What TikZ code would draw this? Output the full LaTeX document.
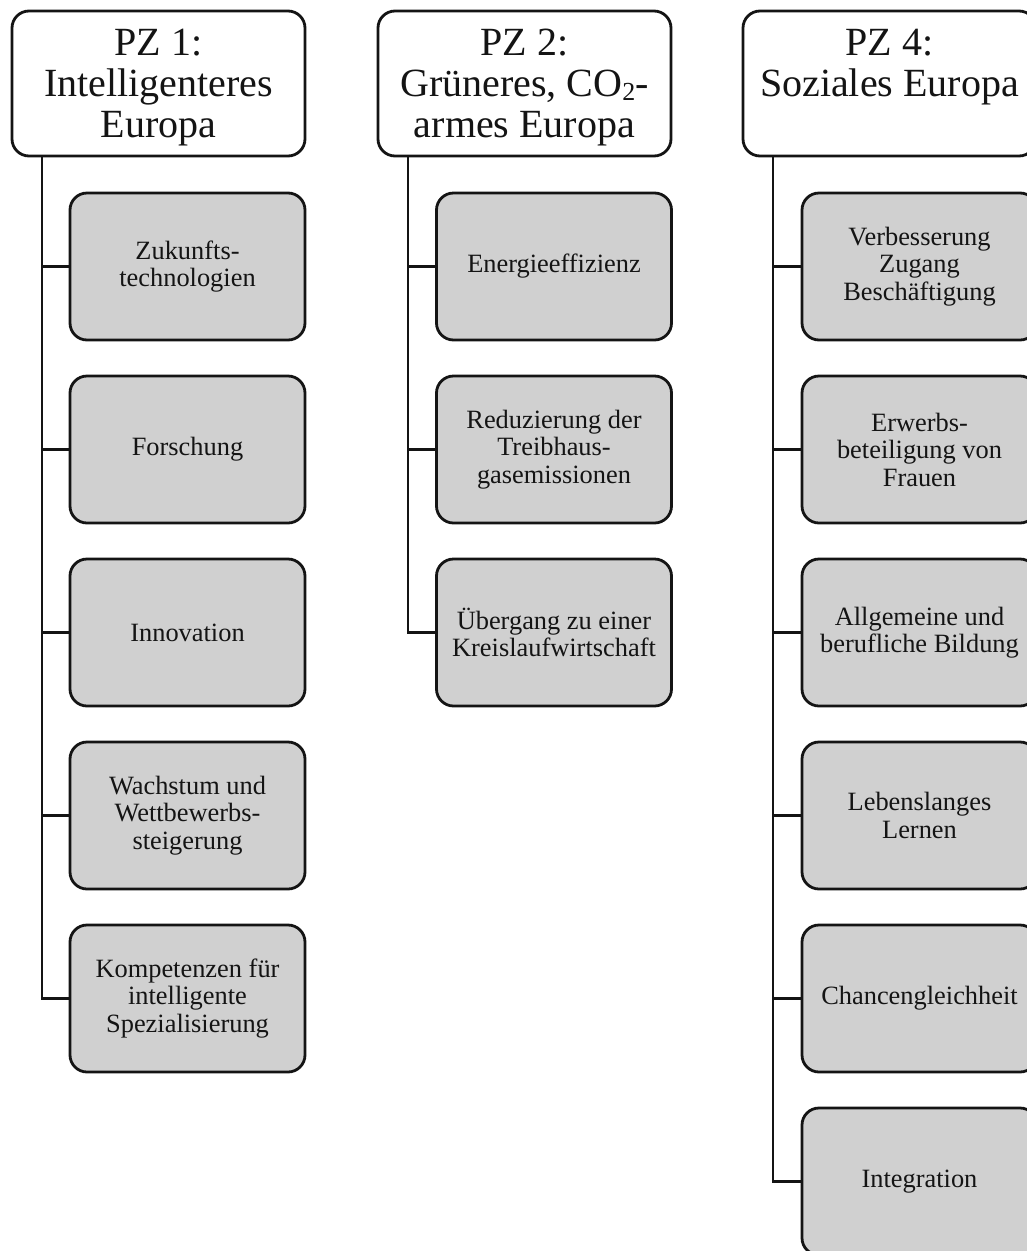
\documentclass[tikz,border=0pt]{standalone}
\usepackage{fontspec}
\setmainfont{Liberation Serif}
\definecolor{boxgray}{RGB}{208,208,208}
\definecolor{ink}{RGB}{20,20,20}
\newcommand{\htop}{\rule{0pt}{35pt}}
\newcommand{\hbot}{\rule[-10pt]{0pt}{10pt}}
\newcommand{\subtwo}{\raisebox{-4pt}{\fontsize{26}{26}\selectfont 2}}
\begin{document}
\begin{tikzpicture}[x=1pt,y=-1pt,
  every node/.style={text=ink},
  head/.style={draw=ink,fill=white,line width=2.8pt,rounded corners=17pt,
    minimum width=293pt,minimum height=145pt,inner sep=0pt,align=center,
    font=\fontsize{40}{41}\selectfont},
  sub/.style={draw=ink,fill=boxgray,line width=2.8pt,rounded corners=17pt,
    minimum width=235pt,minimum height=147pt,inner sep=0pt,align=center,
    font=\fontsize{26.4}{27.5}\selectfont},
  conn/.style={draw=ink,line width=2.8pt,line join=miter}]
\useasboundingbox (0,0) rectangle (1026,1251);

% headers
\node[head] (h1) at (158.5,83.5) {\htop PZ 1:\\Intelligenteres\\Europa\hbot};
\node[head] (h2) at (524.5,83.5) {\htop PZ 2:\\Grüneres, CO\subtwo-\\armes Europa\hbot};
\node[head] (h3) at (889.5,83.5) {\htop PZ 4:\\Soziales Europa\\\hbot};

% spine coordinates
\coordinate (v1) at (42,0);
\coordinate (v2) at (408,0);
\coordinate (v3) at (773,0);

% column 1
\node[sub] (a1) at (187.5,266.5) {Zukunfts-\\technologien};
\node[sub] (a2) at (187.5,449.5) {Forschung};
\node[sub] (a3) at (187.5,632.5) {Innovation};
\node[sub] (a4) at (187.5,815.5) {Wachstum und\\Wettbewerbs-\\steigerung};
\node[sub] (a5) at (187.5,998.5) {Kompetenzen für\\intelligente\\Spezialisierung};

% column 2
\node[sub] (b1) at (554,266.5) {Energieeffizienz};
\node[sub] (b2) at (554,449.5) {Reduzierung der\\Treibhaus-\\gasemissionen};
\node[sub] (b3) at (554,632.5) {Übergang zu einer\\Kreislaufwirtschaft};

% column 3
\node[sub] (c1) at (919.5,266.5) {Verbesserung\\Zugang\\Beschäftigung};
\node[sub] (c2) at (919.5,449.5) {Erwerbs-\\beteiligung von\\Frauen};
\node[sub] (c3) at (919.5,632.5) {Allgemeine und\\berufliche Bildung};
\node[sub] (c4) at (919.5,815.5) {Lebenslanges\\Lernen};
\node[sub] (c5) at (919.5,998.5) {Chancengleichheit};
\node[sub] (c6) at (919.5,1181.5) {Integration};

% connectors
\draw[conn] (h1.south -| v1) |- (a5.west);
\foreach \n in {a1,a2,a3,a4} \draw[conn] (\n.west -| v1) -- (\n.west);
\draw[conn] (h2.south -| v2) |- (b3.west);
\foreach \n in {b1,b2} \draw[conn] (\n.west -| v2) -- (\n.west);
\draw[conn] (h3.south -| v3) |- (c6.west);
\foreach \n in {c1,c2,c3,c4,c5} \draw[conn] (\n.west -| v3) -- (\n.west);
\end{tikzpicture}
\end{document}
